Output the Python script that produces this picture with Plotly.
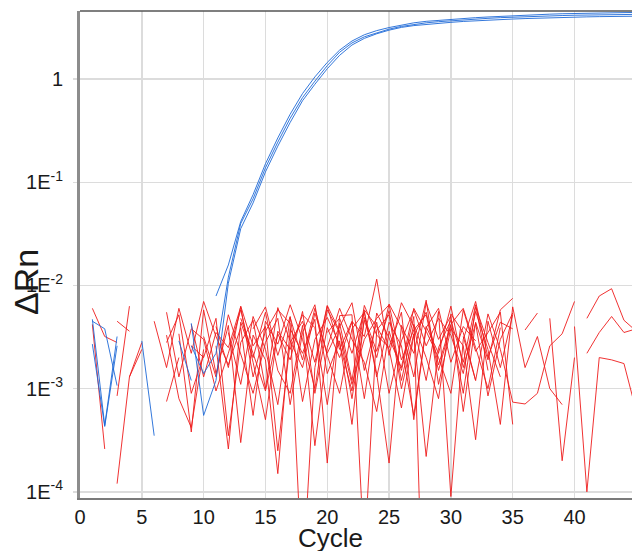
import plotly.graph_objects as go

N = None
cycles = list(range(1, 46))

# ---- amplification curves (blue) ----
blue_a = [4.7e-3, 4.4e-4, 3.2e-3, N, 2.9e-3, 3.5e-4, N, 2.9e-3, 1.2e-3,
          N, 7.9e-3, 0.0158, 0.0417, 0.0759, 0.151, 0.269, 0.457, 0.724,
          1.05, 1.45, 1.91, 2.34, 2.69, 2.95, 3.16, 3.35, 3.51,
          3.63, 3.72, 3.80, 3.87, 3.94, 4.00, 4.06, 4.11, 4.17,
          4.22, 4.26, 4.30, 4.33, 4.36, 4.38, 4.40, 4.42, 4.43]
blue_b = [2.7e-3, 4.3e-4, 2.6e-3, N, N, N, N, N, 2.6e-3,
          1.4e-3, 2.2e-3, 0.0120, 0.0398, 0.0692, 0.138, 0.245, 0.417, 0.661,
          0.955, 1.35, 1.82, 2.24, 2.57, 2.82, 3.05, 3.24, 3.39,
          3.51, 3.60, 3.68, 3.76, 3.82, 3.88, 3.94, 3.99, 4.03,
          4.07, 4.10, 4.13, 4.16, 4.18, 4.20, 4.22, 4.23, 4.24]
blue_c = [4.5e-3, 3.8e-3, 1.07e-3, N, N, N, N, N, 4.3e-3,
          5.5e-4, 1.2e-3, 0.0105, 0.0355, 0.0631, 0.126, 0.224, 0.380, 0.617,
          0.891, 1.26, 1.70, 2.14, 2.48, 2.75, 2.98, 3.17, 3.30,
          3.40, 3.48, 3.55, 3.62, 3.68, 3.73, 3.78, 3.82, 3.86,
          3.90, 3.93, 3.96, 3.99, 4.01, 4.03, 4.05, 4.06, 4.07]

# ---- no-template controls (red) ----
red_01 = [6.0e-3, 3.2e-3, 2.8e-3, N, N, N, N, N, 4.2e-3,
          1.3e-3, 3.5e-3, 2.5e-3, 6.2e-3, 1.3e-3, 3.6e-3, 5.8e-3, 4.3e-3, 1.3e-5,
          1.6e-3, 6.3e-3, 2.4e-3, 4.5e-3, 3.2e-3, 1.15e-2, 2.1e-3, 6.8e-3, 4.0e-3,
          1.2e-3, 5.6e-3, 9.0e-5, 3.0e-3, 7.0e-3, 2.0e-3, 4.4e-3, 3.8e-3, N,
          N, N, N, N, 4.8e-3, 7.9e-3, 9.3e-3, 4.6e-3, 3.6e-3]
red_02 = [4.2e-3, 2.6e-4, N, 1.3e-3, 2.4e-3, N, N, 3.4e-3, 3.8e-4,
          5.8e-3, 1.4e-3, 4.1e-3, 3.0e-4, 3.3e-3, 1.9e-3, 1.5e-4, 3.8e-3, 2.2e-3,
          4.7e-3, 1.9e-4, 5.1e-3, 5.2e-3, 2.4e-5, 3.7e-3, 5.2e-3, 1.0e-3, 3.4e-3,
          2.2e-4, 2.5e-3, 4.6e-3, 1.8e-3, 6.5e-3, 1.5e-3, N, N, N,
          N, N, N, N, N, N, N, N, N]
red_03 = [N, N, 1.2e-4, 1.3e-3, 2.8e-3, N, 7.5e-4, 2.0e-3, N,
          N, 2.6e-3, 2.6e-4, 4.4e-3, 2.0e-3, 5.5e-3, 1.5e-3, 9.0e-4, 4.1e-3,
          2.8e-4, 2.5e-3, 6.0e-3, 3.0e-3, 1.8e-3, 6.0e-4, 3.6e-3, 1.5e-3, 5.0e-3,
          5.0e-7, N, N, 3.2e-3, 1.2e-3, 5.3e-3, 2.4e-3, 7.4e-4, 7.1e-4,
          9.0e-4, 2.6e-3, 3.4e-3, 7.0e-3, N, N, N, N, N]
red_04 = [N, N, N, N, N, 4.5e-3, 1.6e-3, 6.0e-3, 2.2e-3,
          7.0e-3, 3.2e-3, 1.7e-3, 3.9e-3, 5.5e-4, 4.5e-3, 2.7e-3, 6.5e-3, 3.0e-3,
          1.0e-3, 5.8e-3, 3.5e-3, 8.0e-4, 4.6e-3, 2.0e-3, 6.6e-3, 3.9e-3, 1.3e-3,
          6.8e-3, 3.0e-3, 5.1e-3, 6.0e-4, 4.4e-3, 1.9e-3, 5.8e-3, 7.5e-3, N,
          N, N, N, N, N, N, N, N, N]
red_05 = [N, N, 4.5e-3, 3.6e-3, N, N, 3.3e-3, 8.0e-4, 4.2e-4,
          2.4e-3, N, 3.5e-3, 1.1e-3, 5.0e-3, 2.4e-3, 7.0e-4, 4.9e-3, 1.9e-3,
          6.0e-3, 2.1e-3, 9.0e-4, 3.8e-3, 5.5e-3, 1.4e-3, 1.9e-4, 4.1e-3, 2.2e-3,
          7.2e-3, 1.1e-3, 3.8e-3, 2.6e-3, 3.2e-4, 4.5e-3, 1.6e-3, 5.2e-3, N,
          N, 4.8e-3, 2.0e-4, 2.0e-3, N, N, N, N, N]
red_06 = [N, N, N, N, N, N, 5.5e-3, 1.3e-3, 3.8e-3,
          3.0e-3, 9.5e-4, 2.2e-3, 5.8e-3, 1.8e-3, 5.0e-4, 3.6e-3, 2.4e-3, 5.2e-3,
          3.9e-3, 7.0e-4, 4.3e-3, 1.2e-3, 6.4e-3, 3.3e-3, 2.5e-3, 5.5e-3, 5.0e-4,
          3.9e-3, 6.0e-3, 1.8e-3, 4.0e-3, 2.9e-3, N, N, N, 3.7e-3,
          5.4e-3, N, N, N, N, N, N, N, N]
red_07 = [N, N, N, N, N, N, N, N, 2.6e-3,
          2.0e-3, 4.8e-3, 3.5e-4, 2.8e-3, 4.6e-3, 1.0e-3, 6.1e-3, 2.9e-3, 1.6e-3,
          5.4e-3, 2.2e-3, 4.0e-3, 6.8e-3, 1.5e-3, 4.4e-3, 9.0e-4, 2.9e-3, 5.8e-3,
          2.6e-3, 4.8e-3, 3.3e-3, 1.4e-3, 5.6e-3, 2.4e-3, 4.5e-4, 6.2e-3, 1.6e-3,
          3.2e-3, 1.0e-3, 7.0e-4, N, N, N, N, N, N]
red_08 = [N, N, N, N, N, N, N, N, N,
          3.2e-3, 1.3e-3, 5.2e-3, 2.2e-3, 9.0e-4, 2.8e-3, 4.8e-3, 7.0e-4, 3.5e-3,
          6.5e-3, 1.4e-3, 2.9e-3, 4.5e-4, 4.9e-3, 2.3e-3, 5.7e-3, 1.2e-3, 4.2e-3,
          2.0e-3, 8.0e-4, 5.3e-3, 3.5e-3, 1.2e-3, N, N, N, N,
          N, N, N, 4.0e-3, 1.0e-4, 2.0e-3, 1.9e-3, 1.75e-3, 6.0e-4]
red_09 = [N, N, N, N, N, N, N, N, N,
          N, N, N, 4.8e-3, 2.2e-3, 9.5e-4, 3.4e-3, 1.9e-3, 5.6e-3,
          9.0e-4, 3.9e-3, 2.0e-3, 4.4e-3, 8.0e-4, 5.4e-3, 3.1e-3, 1.6e-3, 6.0e-3,
          3.6e-3, 2.0e-3, 9.0e-4, 5.8e-3, 2.3e-3, 3.5e-3, 5.5e-3, 4.5e-4, N,
          N, N, N, N, N, N, N, N, N]
red_10 = [N, N, N, N, N, N, N, N, N,
          N, 4.0e-3, 1.6e-3, 6.3e-3, 2.6e-3, 4.0e-3, 2.5e-4, 2.8e-3, 4.5e-3,
          1.8e-3, 6.4e-3, 3.6e-3, 1.1e-3, 3.0e-3, 4.8e-3, 6.5e-3, 1.9e-3, 3.7e-3,
          5.2e-3, 1.5e-3, 4.1e-3, 9.0e-4, 6.2e-3, 2.8e-3, 1.3e-3, N, N,
          N, N, N, N, N, N, N, N, N]
red_11 = [N, N, N, N, N, N, N, N, N,
          N, N, N, N, 3.8e-3, 6.2e-3, 2.1e-3, 5.0e-3, 7.5e-4,
          3.0e-3, 4.9e-3, 2.7e-3, 9.5e-4, 5.8e-3, 4.0e-3, 2.4e-3, 6.5e-4, 3.3e-3,
          5.5e-3, 1.7e-3, 4.2e-3, 6.0e-3, 2.5e-3, 1.0e-3, 3.9e-3, N, N,
          N, N, N, N, N, N, N, N, N]
red_12 = [N, N, N, N, N, N, N, N, N,
          N, N, N, N, N, N, N, N, N,
          N, 3.5e-3, 4.8e-3, 2.2e-3, 5.6e-3, 1.3e-3, 4.4e-3, 2.6e-3, 5.5e-4,
          4.0e-3, 2.2e-3, 6.3e-3, 1.6e-3, 4.3e-3, 8.5e-4, 3.0e-3, 5.4e-3, N,
          N, N, N, N, N, N, N, N, N]
red_13 = [N, N, N, N, N, N, N, N, N,
          N, N, N, N, N, N, N, N, N,
          N, N, N, N, N, N, N, N, N,
          N, N, N, N, N, N, N, N, N,
          N, N, N, N, 2.2e-3, 3.5e-3, 5.0e-3, 3.5e-3, 3.8e-3]
red_14 = [N, N, 8.5e-4, 6.3e-3, N, N, 2.8e-3, 5.2e-3, 9.0e-4,
          2.1e-3, N, N, N, N, N, N, N, N,
          N, N, N, N, N, N, N, N, N,
          N, N, N, N, N, N, N, N, N,
          N, N, N, N, N, N, N, N, N]

red_series = [red_01, red_02, red_03, red_04, red_05, red_06, red_07,
              red_08, red_09, red_10, red_11, red_12, red_13, red_14]
blue_series = [blue_a, blue_b, blue_c]

x_tick_vals = [0, 5, 10, 15, 20, 25, 30, 35, 40]
y_tick_vals = [1e-4, 1e-3, 1e-2, 1e-1, 1]
y_tick_text = ["1E<sup>-4</sup>", "1E<sup>-3</sup>", "1E<sup>-2</sup>",
               "1E<sup>-1</sup>", "1"]

RED = "rgba(238,28,28,0.9)"
BLUE = "rgba(30,105,215,0.9)"
FONT = "Liberation Sans, Arial, sans-serif"

fig = go.Figure()
for s in red_series:
    fig.add_trace(go.Scatter(x=cycles, y=s, mode="lines",
                             line=dict(color=RED, width=1),
                             connectgaps=False, hoverinfo="skip",
                             showlegend=False))
for s in blue_series:
    fig.add_trace(go.Scatter(x=cycles, y=s, mode="lines",
                             line=dict(color=BLUE, width=1),
                             connectgaps=False, hoverinfo="skip",
                             showlegend=False))

fig.update_layout(
    width=632, height=551,
    margin=dict(l=80, r=0, t=11, b=53, autoexpand=False),
    plot_bgcolor="white", paper_bgcolor="white",
    showlegend=False,
    font=dict(family=FONT, color="#1a1a1a"),
)
fig.update_xaxes(
    range=[0, 44.65], tickvals=x_tick_vals, automargin=False,
    showgrid=True, gridcolor="#dcdcdc", gridwidth=1.5,
    showline=True, linecolor="#7a7a7a", linewidth=2,
    ticks="", zeroline=False, tickfont=dict(size=20, family=FONT),
)
fig.update_yaxes(
    type="log", range=[-4.06, 0.66], automargin=False,
    tickvals=y_tick_vals, ticktext=y_tick_text,
    showgrid=True, gridcolor="#dcdcdc", gridwidth=1.5,
    showline=True, linecolor="#8c8c8c", linewidth=3,
    ticks="outside", ticklen=4, tickcolor="#dcdcdc", tickwidth=1.5,
    ticklabelstandoff=6,
    zeroline=False, tickfont=dict(size=20, family=FONT),
)
fig.add_shape(type="line", xref="paper", yref="paper", x0=0, x1=1, y0=1, y1=1,
              line=dict(color="#555555", width=1.5))
fig.add_annotation(text="ΔRn", xref="paper", yref="paper",
                   x=(26 - 80) / 552, y=(498 - 282) / 487,
                   xanchor="center", yanchor="middle", textangle=-90,
                   showarrow=False, font=dict(size=34, family=FONT, color="#1a1a1a"))
fig.add_annotation(text="Cycle", xref="paper", yref="paper",
                   x=(330 - 80) / 552, y=-(538 - 498) / 487,
                   xanchor="center", yanchor="middle",
                   showarrow=False, font=dict(size=26, family=FONT, color="#1a1a1a"))

fig.write_html(
    "out.html",
    config={"displayModeBar": False, "staticPlot": True},
    post_script="document.body.style.margin='0';document.body.style.overflow='hidden';",
)
